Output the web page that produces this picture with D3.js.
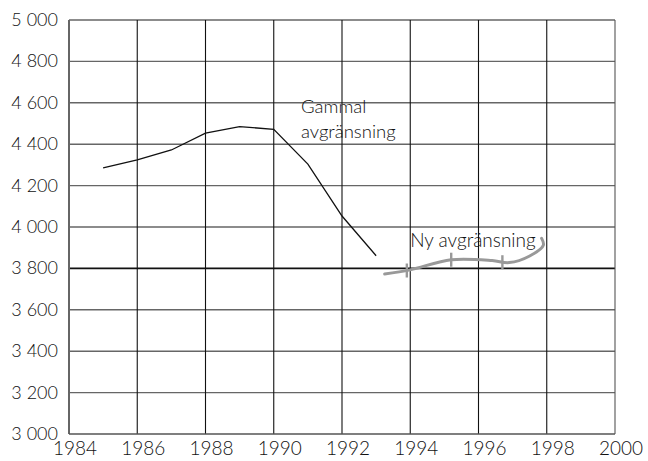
<!DOCTYPE html>
<html>
<head>
<meta charset="utf-8">
<script src="https://cdn.jsdelivr.net/npm/d3@7"></script>
<style>
  body { margin: 0; background: #fff; }
  text { font-family: Lato, "Open Sans", sans-serif; font-weight: 300; fill: #111; }
</style>
</head>
<body>
<div id="chart"></div>
<script>
var svgWidth = 648;
var svgHeight = 461;

var margin = { top: 20, right: 33, bottom: 27, left: 69 };
var width = svgWidth - margin.left - margin.right;
var height = svgHeight - margin.top - margin.bottom;

// data
var oldYears = [1985, 1986, 1987, 1988, 1989, 1990, 1991, 1992, 1993];
var oldValues = [4286, 4324, 4372, 4453, 4485, 4472, 4304, 4053, 3861];

var newYears = [1993.25, 1994, 1995.2, 1996.4, 1996.9, 1997.5, 1997.9, 1997.85];
var newValues = [3773, 3793, 3842, 3838, 3828, 3860, 3912, 3945];
var markYears = [1993.9, 1995.2, 1996.7];

var xTicks = [1984, 1986, 1988, 1990, 1992, 1994, 1996, 1998, 2000];
var yTicks = [3000, 3200, 3400, 3600, 3800, 4000, 4200, 4400, 4600, 4800, 5000];

var svg = d3.select("#chart")
  .append("svg")
  .attr("width", svgWidth)
  .attr("height", svgHeight);

var chartGroup = svg.append("g")
  .attr("transform", `translate(${margin.left}, ${margin.top})`);

var xScale = d3.scaleLinear().domain([1984, 2000]).range([0, width]);
var yScale = d3.scaleLinear().domain([3000, 5000]).range([height, 0]);

// horizontal grid
chartGroup.selectAll(".hgrid")
  .data(yTicks.filter(d => d > 3000))
  .enter()
  .append("line")
  .attr("x1", 0)
  .attr("x2", width)
  .attr("y1", d => yScale(d))
  .attr("y2", d => yScale(d))
  .attr("stroke", d => d === 3800 ? "#111" : "#666")
  .attr("stroke-width", d => d === 3800 ? 1.6 : 1.4);

// vertical grid
chartGroup.selectAll(".vgrid")
  .data(xTicks.filter(d => d > 1984))
  .enter()
  .append("line")
  .attr("x1", d => xScale(d))
  .attr("x2", d => xScale(d))
  .attr("y1", 0)
  .attr("y2", height)
  .attr("stroke", d => d === 2000 ? "#555" : "#111")
  .attr("stroke-width", 1.1);

// axis lines
chartGroup.append("line")
  .attr("x1", 0).attr("x2", 0)
  .attr("y1", 0).attr("y2", height)
  .attr("stroke", "#666").attr("stroke-width", 2);
chartGroup.append("line")
  .attr("x1", 0).attr("x2", width)
  .attr("y1", height).attr("y2", height)
  .attr("stroke", "#555").attr("stroke-width", 1.6);

// tick labels, space as thousands separator
var fmt = d => d3.format(",")(d).replace(",", " ");
chartGroup.selectAll(".ylab")
  .data(yTicks)
  .enter()
  .append("text")
  .attr("x", -11)
  .attr("y", d => yScale(d) + 6)
  .attr("text-anchor", "end")
  .style("font-size", "18px")
  .text(fmt);

chartGroup.selectAll(".xlab")
  .data(xTicks)
  .enter()
  .append("text")
  .attr("x", d => xScale(d) + 6)
  .attr("y", height + 21)
  .attr("text-anchor", "middle")
  .style("font-size", "19px")
  .text(d => d);

// old series
var line = d3.line()
  .x((d, i) => xScale(oldYears[i]))
  .y(d => yScale(d));

chartGroup.append("path")
  .datum(oldValues)
  .attr("d", line)
  .attr("fill", "none")
  .attr("stroke", "#111")
  .attr("stroke-width", 1.3);

// new series
var newLine = d3.line()
  .x((d, i) => xScale(newYears[i]))
  .y(d => yScale(d))
  .curve(d3.curveCatmullRom);

var newPath = chartGroup.append("path")
  .datum(newValues)
  .attr("d", newLine)
  .attr("fill", "none")
  .attr("stroke", "#999")
  .attr("stroke-width", 3)
  .attr("stroke-linecap", "round");

// small cross marks on the new series
var pathNode = newPath.node();
function yAt(year) {
  var target = xScale(year);
  var len = pathNode.getTotalLength();
  var lo = 0, hi = len * 0.8;
  for (var k = 0; k < 30; k++) {
    var mid = (lo + hi) / 2;
    if (pathNode.getPointAtLength(mid).x < target) lo = mid; else hi = mid;
  }
  return pathNode.getPointAtLength(lo).y;
}
chartGroup.selectAll(".mark")
  .data(markYears)
  .enter()
  .append("line")
  .attr("x1", d => xScale(d))
  .attr("x2", d => xScale(d))
  .attr("y1", d => yAt(d) - 7)
  .attr("y2", d => yAt(d) + 7)
  .attr("stroke", "#999")
  .attr("stroke-width", 2.4);

// labels
var oldLabel = chartGroup.append("text")
  .attr("x", xScale(1990.8))
  .attr("y", yScale(4550))
  .style("font-size", "18.5px");
oldLabel.append("tspan").attr("x", xScale(1990.8)).text("Gammal");
oldLabel.append("tspan").attr("x", xScale(1990.8)).attr("dy", 25).text("avgränsning");

chartGroup.append("text")
  .attr("x", xScale(1994.0))
  .attr("y", yScale(3903))
  .style("font-size", "19px")
  .text("Ny avgränsning");
</script>
</body>
</html>
